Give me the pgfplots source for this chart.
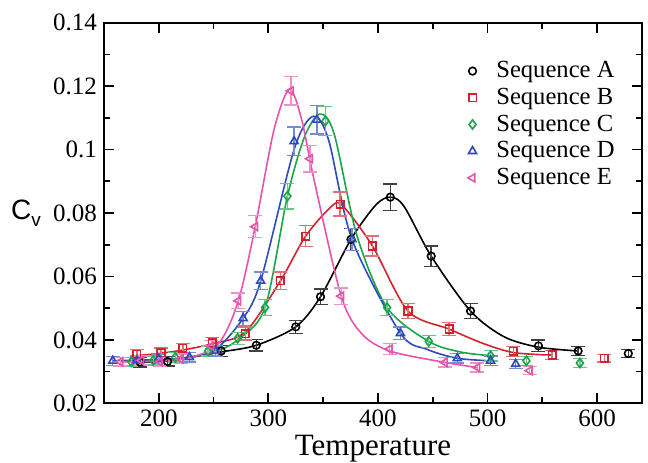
\documentclass[border=0pt]{standalone}
\usepackage{pgfplots}
\pgfplotsset{compat=1.18}
\usepackage{pgfplotstable}
\usepackage{fontspec}
\setmainfont{Liberation Serif}
\newfontfamily\sansf{Liberation Sans}
\definecolor{cA}{RGB}{0,0,0}
\definecolor{cB}{RGB}{210,35,45}
\definecolor{cC}{RGB}{25,165,75}
\definecolor{cD}{RGB}{45,75,185}
\definecolor{cE}{RGB}{230,85,170}

% marker data: T, Cv, error
\pgfplotstableread{
x y e
183 0.0330 0.0015
208 0.0332 0.0015
257 0.0365 0.0017
289 0.0383 0.0018
325 0.0441 0.0020
347.6 0.0536 0.0025
375.4 0.0717 0.0035
411.3 0.0850 0.0042
448.6 0.0664 0.0032
484.5 0.0491 0.0024
546.5 0.0381 0.0018
582.7 0.0365 0.0015
628.5 0.0357 0.0012
}\dataA
\pgfplotstableread{
x y e
180 0.0355 0.0015
202 0.0360 0.0015
222 0.0373 0.0016
249 0.0390 0.0018
279 0.0420 0.0020
311 0.0586 0.0028
334 0.0727 0.0033
365.5 0.0828 0.0038
395 0.0696 0.0032
427.5 0.0491 0.0024
465 0.0434 0.0020
523.6 0.0364 0.0016
559 0.0352 0.0014
606.5 0.0342 0.0012
}\dataB
\pgfplotstableread{
x y e
175 0.0331 0.0014
195 0.0335 0.0014
215 0.0345 0.0015
245 0.0365 0.0016
272 0.0405 0.0019
297 0.0502 0.0025
317.4 0.0853 0.0040
352 0.1090 0.0045
408.3 0.0502 0.0025
446.4 0.0395 0.0019
502.8 0.0350 0.0016
535.5 0.0334 0.0014
584.3 0.0327 0.0014
}\dataC
\pgfplotstableread{
x y e
158 0.0334 0.0014
180 0.0335 0.0014
200 0.0340 0.0015
228 0.0345 0.0015
252 0.0365 0.0016
277 0.0468 0.0022
293 0.0586 0.0028
323.5 0.1026 0.0045
344.3 0.1094 0.0045
376.3 0.0717 0.0035
420.5 0.0421 0.0020
472.4 0.0342 0.0015
502.8 0.0334 0.0015
525.7 0.0324 0.0014
}\dataD
\pgfplotstableread{
x y e
165 0.0331 0.0014
184 0.0335 0.0014
201 0.0331 0.0014
220 0.0340 0.0015
248 0.0380 0.0018
272.6 0.0523 0.0025
288 0.0757 0.0035
320.5 0.1185 0.0045
338 0.0971 0.0042
366.5 0.0538 0.0026
410.7 0.0371 0.0017
461 0.0329 0.0015
490.7 0.0313 0.0014
538.5 0.0303 0.0013
}\dataE

\begin{document}
\begin{tikzpicture}
\begin{axis}[
  scale only axis, width=269pt, height=190.3pt,
  xmin=150, xmax=641, ymin=0.02, ymax=0.14,
  xtick={200,300,400,500,600},
  ytick={0.02,0.04,0.06,0.08,0.1,0.12,0.14},
  minor x tick num=1, minor y tick num=1,
  tick align=inside, tick pos=both,
  major tick length=5pt, minor tick length=3pt,
  axis line style={line width=1pt},
  every tick/.style={line width=0.9pt, black},
  /pgf/number format/assume math mode=true,
  yticklabel style={/pgf/number format/fixed, /pgf/number format/precision=2, font=\fontsize{12.5}{14}\selectfont},
  xticklabel style={font=\fontsize{12.5}{14}\selectfont},
  scaled y ticks=false,
  xlabel={Temperature},
  xlabel style={font=\fontsize{15.5}{17}\selectfont, yshift=3pt},
  ylabel={\sansf C\raisebox{-0.45ex}{\fontsize{9.5}{10}\selectfont v}},
  ylabel style={rotate=-90, font=\fontsize{14}{15}\selectfont, at={(rel axis cs:0,0.5)}, anchor=east, xshift=-28pt},
  legend style={draw=none, fill=none, at={(rel axis cs:0.672,0.915)}, anchor=north west,
    font=\fontsize{12.3}{14}\selectfont, row sep=-0.3pt, inner sep=1pt},
  legend cell align=left,
  legend image code/.code={\draw[#1] plot coordinates {(0pt,0pt)}; \path (-1pt,0pt) (9.5pt,0pt);},
  mark size=1.9pt,
  every axis plot/.append style={line width=0.8pt},
]
\coordinate (sw) at (rel axis cs:0,0);
\coordinate (ne) at (rel axis cs:1,1);
% fitted curves
\addplot[cA, smooth, forget plot] coordinates {(183,0.0330) (208,0.0333) (257,0.0362) (289,0.0383) (325,0.0441) (347.6,0.0536) (375.4,0.0717) (398,0.0825) (411.3,0.0850) (424,0.0820) (448.6,0.0664) (484.5,0.0491) (515,0.0410) (546.5,0.0377) (582.7,0.0365)};
\addplot[cB, smooth, forget plot] coordinates {(180,0.0350) (202,0.0358) (222,0.0368) (249,0.0388) (279,0.0425) (311,0.0586) (334,0.0727) (358,0.0822) (368,0.0822) (395,0.0696) (427.5,0.0491) (465,0.0434) (495,0.0390) (523.6,0.0360) (559,0.0352)};
\addplot[cC, smooth, forget plot] coordinates {(175,0.0331) (215,0.0340) (250,0.0362) (272,0.0400) (297,0.0502) (317.4,0.0853) (333,0.1040) (347,0.1112) (360,0.1050) (381,0.0727) (408.3,0.0502) (446.4,0.0395) (475,0.0362) (502.8,0.0350)};
\addplot[cD, smooth, forget plot] coordinates {(158,0.0334) (200,0.0338) (228,0.0345) (252,0.0370) (277,0.0468) (293,0.0586) (323.5,0.1000) (341,0.1105) (355,0.1030) (376.3,0.0717) (420.5,0.0421) (445,0.0370) (472.4,0.0342) (502.8,0.0334)};
\addplot[cE, smooth, forget plot] coordinates {(165,0.0331) (201,0.0333) (230,0.0345) (255,0.0390) (272.6,0.0523) (288,0.0757) (305,0.1060) (319,0.1190) (330,0.1100) (342,0.0900) (366.5,0.0538) (385,0.0420) (410.7,0.0365) (461,0.0329) (490.7,0.0313)};
% markers with error bars
\addplot[cA, only marks, mark=o, error bars/.cd, y dir=both, y explicit, error bar style={cA!75, line width=0.7pt}, error mark options={rotate=90, mark size=3.5pt, cA!75, line width=0.7pt}]
  table[x=x, y=y, y error=e] {\dataA};
\addlegendentry{Sequence A}
\addplot[cB, only marks, mark=square, error bars/.cd, y dir=both, y explicit, error bar style={cB!65, line width=0.7pt}, error mark options={rotate=90, mark size=3.5pt, cB!65, line width=0.7pt}]
  table[x=x, y=y, y error=e] {\dataB};
\addlegendentry{Sequence B}
\addplot[cC, only marks, mark=diamond, mark size=2.3pt, error bars/.cd, y dir=both, y explicit, error bar style={cC!65, line width=0.7pt}, error mark options={rotate=90, mark size=3.5pt, cC!65, line width=0.7pt}]
  table[x=x, y=y, y error=e] {\dataC};
\addlegendentry{Sequence C}
\addplot[cD, only marks, mark=triangle, mark size=2.3pt, error bars/.cd, y dir=both, y explicit, error bar style={cD!65, line width=0.7pt}, error mark options={rotate=90, mark size=3.5pt, cD!65, line width=0.7pt}]
  table[x=x, y=y, y error=e] {\dataD};
\addlegendentry{Sequence D}
\addplot[cE, only marks, mark=triangle, mark size=2.3pt, mark options={rotate=90}, error bars/.cd, y dir=both, y explicit, error bar style={cE!65, line width=0.7pt}, error mark options={rotate=90, mark size=3.5pt, cE!65, line width=0.7pt}]
  table[x=x, y=y, y error=e] {\dataE};
\addlegendentry{Sequence E}
\end{axis}
\pgfresetboundingbox
\path ([shift={(-52pt,-29.35pt)}]sw) rectangle ([shift={(3pt,11.35pt)}]ne);
\end{tikzpicture}
\end{document}
